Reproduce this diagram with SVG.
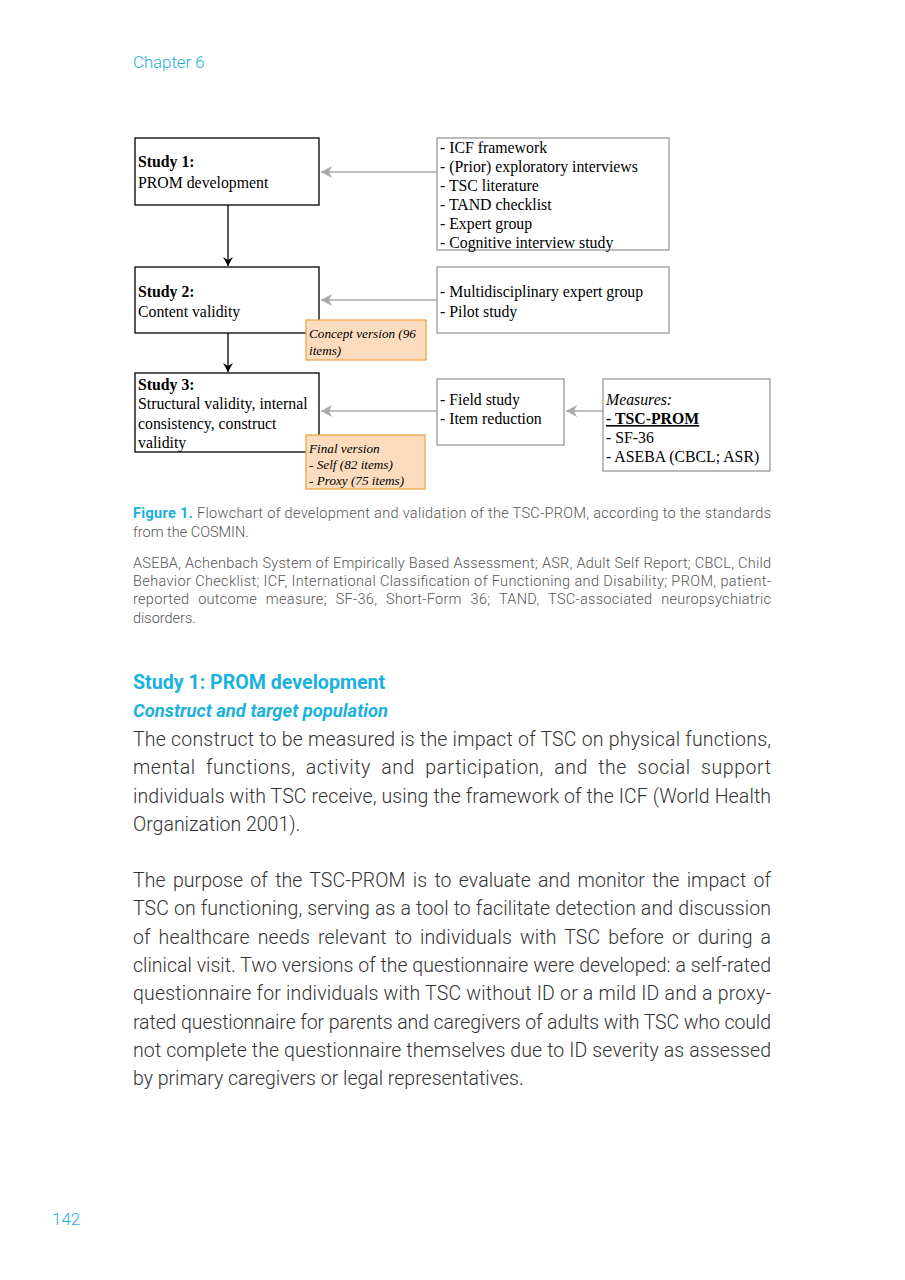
<svg xmlns="http://www.w3.org/2000/svg" width="905" height="1280" viewBox="0 0 905 1280">
<style>
.bg{fill:#fff}
.main{fill:#fff;stroke:#000;stroke-width:1.3}
.src{fill:#fff;stroke:#999;stroke-width:1.3}
.note{fill:#fcdcbf;stroke:#f0a54a;stroke-width:1.3}
.t{font-family:"Liberation Serif","Times New Roman",serif;font-size:15.8px;fill:#000}
.b{font-weight:bold}
.i{font-family:"Liberation Serif","Times New Roman",serif;font-size:13.2px;font-style:italic;fill:#000}
.dn{stroke:#000;stroke-width:1.3;fill:none}
.gr{stroke:#aaa;stroke-width:1.5;fill:none}
.cap{font-family:Roboto,"Liberation Sans",sans-serif;font-size:14.5px;fill:#555;font-weight:300}
.body{font-family:Roboto,"Liberation Sans",sans-serif;font-size:19.5px;fill:#333;font-weight:300}
.cy{fill:#1ab1dc}
</style>
<defs>
<marker id="ab" markerWidth="12" markerHeight="12" refX="10" refY="6" orient="auto" markerUnits="userSpaceOnUse">
<path d="M1,1 L10,6 L1,11 L4,6 Z" fill="#000"/>
</marker>
<marker id="ag" markerWidth="14" markerHeight="14" refX="12" refY="7" orient="auto" markerUnits="userSpaceOnUse">
<path d="M1,1 L12,7 L1,13 L4,7 Z" fill="#aaa"/>
</marker>
</defs>
<rect class="bg" x="0" y="0" width="905" height="1280"/>
<text x="133" y="68" font-family="Roboto,'Liberation Sans',sans-serif" font-size="16.8" font-weight="300" class="cy">Chapter 6</text>

<g id="connectors">
<line class="dn" x1="228" y1="205" x2="228" y2="266" marker-end="url(#ab)"/>
<line class="dn" x1="228" y1="333" x2="228" y2="372" marker-end="url(#ab)"/>
<line class="gr" x1="437" y1="172" x2="321" y2="172" marker-end="url(#ag)"/>
<line class="gr" x1="437" y1="300" x2="321" y2="300" marker-end="url(#ag)"/>
<line class="gr" x1="437" y1="411" x2="321" y2="411" marker-end="url(#ag)"/>
<line class="gr" x1="603" y1="411" x2="566" y2="411" marker-end="url(#ag)"/>
</g>

<g id="study1">
<rect class="main" x="135" y="138" width="184" height="67"/>
<text class="t b" x="138" y="167">Study 1:</text>
<text class="t" x="138" y="188">PROM development</text>
</g>
<g id="sources1">
<rect class="src" x="437" y="138" width="232" height="112"/>
<text class="t" x="440" y="153">- ICF framework</text>
<text class="t" x="440" y="172">- (Prior) exploratory interviews</text>
<text class="t" x="440" y="191">- TSC literature</text>
<text class="t" x="440" y="210">- TAND checklist</text>
<text class="t" x="440" y="229">- Expert group</text>
<text class="t" x="440" y="248">- Cognitive interview study</text>
</g>
<g id="study2">
<rect class="main" x="135" y="267" width="184" height="66"/>
<text class="t b" x="138" y="297">Study 2:</text>
<text class="t" x="138" y="317">Content validity</text>
</g>
<g id="sources2">
<rect class="src" x="437" y="267" width="232" height="66"/>
<text class="t" x="440" y="297">- Multidisciplinary expert group</text>
<text class="t" x="440" y="317">- Pilot study</text>
</g>
<g id="concept">
<rect class="note" x="306" y="320" width="120" height="40"/>
<text class="i" x="309" y="338">Concept version (96</text>
<text class="i" x="309" y="355">items)</text>
</g>
<g id="study3">
<rect class="main" x="135" y="373" width="184" height="79"/>
<text class="t b" x="138" y="390">Study 3:</text>
<text class="t" x="138" y="409">Structural validity, internal</text>
<text class="t" x="138" y="429">consistency, construct</text>
<text class="t" x="138" y="448">validity</text>
</g>
<g id="field">
<rect class="src" x="437" y="379" width="127" height="66"/>
<text class="t" x="440" y="405">- Field study</text>
<text class="t" x="440" y="424">- Item reduction</text>
</g>
<g id="measures">
<rect class="src" x="603" y="379" width="167" height="92"/>
<text class="t" x="606" y="405" font-style="italic">Measures:</text>
<text class="t b" x="606" y="424" text-decoration="underline">- TSC-PROM</text>
<text class="t" x="606" y="443">- SF-36</text>
<text class="t" x="606" y="462">- ASEBA (CBCL; ASR)</text>
</g>
<g id="final">
<rect class="note" x="306" y="435" width="119" height="54"/>
<text class="i" x="309" y="453">Final version</text>
<text class="i" x="309" y="469">- Self (82 items)</text>
<text class="i" x="309" y="485">- Proxy (75 items)</text>
</g>

<text class="cap" x="133" y="518" textLength="638" lengthAdjust="spacing"><tspan class="cy" font-weight="bold">Figure 1.</tspan> Flowchart of development and validation of the TSC-PROM, according to the standards</text>
<text class="cap" x="133" y="537">from the COSMIN.</text>
<text class="cap" x="133" y="568" textLength="638" lengthAdjust="spacing">ASEBA, Achenbach System of Empirically Based Assessment; ASR, Adult Self Report; CBCL, Child</text>
<text class="cap" x="133" y="586" textLength="638" lengthAdjust="spacing">Behavior Checklist; ICF, International Classification of Functioning and Disability; PROM, patient-</text>
<text class="cap" x="133" y="604" textLength="638" lengthAdjust="spacing" word-spacing="5">reported outcome measure; SF-36, Short-Form 36; TAND, TSC-associated neuropsychiatric</text>
<text class="cap" x="133" y="623">disorders.</text>

<text x="133" y="689" font-family="Roboto,'Liberation Sans',sans-serif" font-size="19.6" font-weight="bold" class="cy">Study 1: PROM development</text>
<text x="133" y="717" font-family="Roboto,'Liberation Sans',sans-serif" font-size="18.4" font-weight="bold" font-style="italic" class="cy">Construct and target population</text>

<text class="body" x="133" y="746" textLength="638" lengthAdjust="spacing">The construct to be measured is the impact of TSC on physical functions,</text>
<text class="body" x="133" y="774" textLength="638" lengthAdjust="spacing" word-spacing="5">mental functions, activity and participation, and the social support</text>
<text class="body" x="133" y="803" textLength="638" lengthAdjust="spacing">individuals with TSC receive, using the framework of the ICF (World Health</text>
<text class="body" x="133" y="831">Organization 2001).</text>

<text class="body" x="133" y="887" textLength="638" lengthAdjust="spacing" word-spacing="2.5">The purpose of the TSC-PROM is to evaluate and monitor the impact of</text>
<text class="body" x="133" y="915" textLength="638" lengthAdjust="spacing">TSC on functioning, serving as a tool to facilitate detection and discussion</text>
<text class="body" x="133" y="944" textLength="638" lengthAdjust="spacing" word-spacing="3">of healthcare needs relevant to individuals with TSC before or during a</text>
<text class="body" x="133" y="972" textLength="638" lengthAdjust="spacing">clinical visit. Two versions of the questionnaire were developed: a self-rated</text>
<text class="body" x="133" y="1000" textLength="638" lengthAdjust="spacing">questionnaire for individuals with TSC without ID or a mild ID and a proxy-</text>
<text class="body" x="133" y="1029" textLength="638" lengthAdjust="spacing">rated questionnaire for parents and caregivers of adults with TSC who could</text>
<text class="body" x="133" y="1057" textLength="638" lengthAdjust="spacing">not complete the questionnaire themselves due to ID severity as assessed</text>
<text class="body" x="133" y="1085">by primary caregivers or legal representatives.</text>

<text x="52" y="1225" font-family="Roboto,'Liberation Sans',sans-serif" font-size="17" font-weight="300" class="cy">142</text>
</svg>
